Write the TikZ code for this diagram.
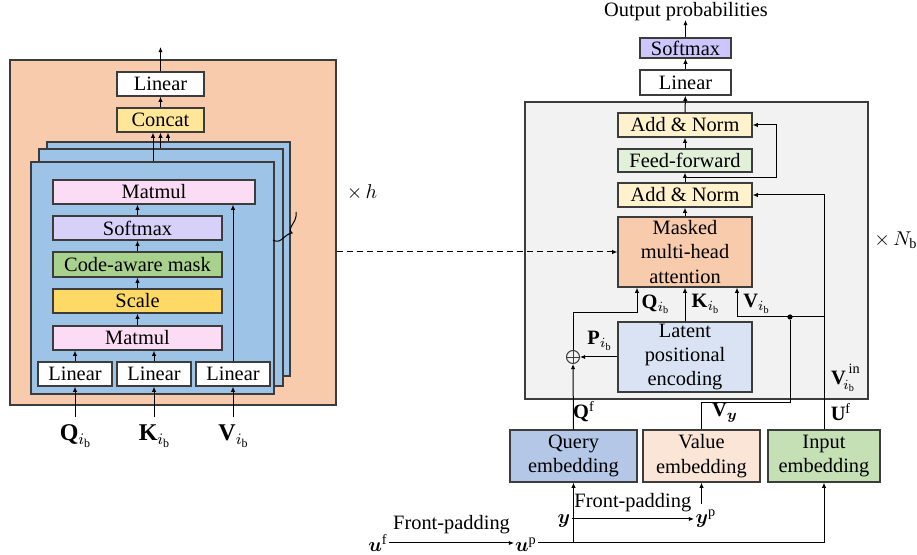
\documentclass[tikz,border=0pt]{standalone}
\usepackage{amsmath,bm}
\usepackage{fontspec}
\setmainfont{Liberation Serif}
\usetikzlibrary{arrows.meta,calc}
\definecolor{orangebg}{HTML}{F8CBAD}
\definecolor{layerc}{HTML}{9DC3E6}
\definecolor{pinkc}{HTML}{FCDCF4}
\definecolor{softl}{HTML}{D7D1FA}
\definecolor{softr}{HTML}{CCC6FD}
\definecolor{codec}{HTML}{A9D18E}
\definecolor{scalec}{HTML}{FFD966}
\definecolor{concatc}{HTML}{FFE699}
\definecolor{addc}{HTML}{FFF2CC}
\definecolor{ffc}{HTML}{E2F0D9}
\definecolor{latc}{HTML}{DAE3F3}
\definecolor{greyc}{HTML}{F2F2F2}
\definecolor{qec}{HTML}{B4C7E7}
\definecolor{vec}{HTML}{FBE5D6}
\definecolor{iec}{HTML}{C5E0B4}
\definecolor{edgec}{HTML}{3C3C3C}
\begin{document}
\begin{tikzpicture}[x=0.5pt,y=-0.5pt,
  font=\rmfamily\fontsize{10.2}{12.2}\selectfont,
  box/.style={draw=edgec, line width=0.65pt, inner sep=0pt, align=center},
  panel/.style={draw=edgec, line width=0.65pt, inner sep=0pt},
  conn/.style={line width=0.5pt, draw=black},
  arr/.style={conn, -{Latex[length=2.6pt,width=2.2pt]}},
  lbl/.style={inner sep=0.5pt},
  dotn/.style={circle, fill=black, inner sep=0pt, minimum size=2.6pt}
]
\useasboundingbox (0,0) rectangle (917,555);

% ---------- left panel ----------
\node[panel, fill=orangebg, minimum width=163pt, minimum height=172.5pt] (orng) at (173,232.5) {};
\node[panel, fill=layerc, minimum width=121.5pt, minimum height=117pt] (lay3) at (168.5,259) {};
\node[panel, fill=layerc, minimum width=122pt, minimum height=118.5pt] (lay2) at (161,267.5) {};
\node[panel, fill=layerc, minimum width=121.5pt, minimum height=116pt] (lay1) at (152.5,278) {};

\node[box, fill=white, minimum width=43.5pt, minimum height=12pt] (lintop) at (160.5,84) {Linear};
\node[box, fill=concatc, minimum width=43.5pt, minimum height=12pt] (concat) at (160.5,120) {Concat};
\node[box, fill=pinkc, minimum width=101pt, minimum height=12pt] (mmtop) at (154,192) {Matmul};
\node[box, fill=softl, minimum width=84.5pt, minimum height=12pt] (softl) at (137.5,228) {Softmax};
\node[box, fill=codec, minimum width=84.5pt, minimum height=12.5pt] (code) at (137.5,264.5) {Code-aware mask};
\node[box, fill=scalec, minimum width=84.5pt, minimum height=12pt] (scale) at (137.5,301) {Scale};
\node[box, fill=pinkc, minimum width=84.5pt, minimum height=12pt] (mmbot) at (137.5,338) {Matmul};
\node[box, fill=white, minimum width=37pt, minimum height=12pt] (lin1) at (75,374) {Linear};
\node[box, fill=white, minimum width=37pt, minimum height=12pt] (lin2) at (154,374) {Linear};
\node[box, fill=white, minimum width=37pt, minimum height=12pt] (lin3) at (233,374) {Linear};

\coordinate (topout) at (160.5,47);
\draw[arr] (concat) -- (lintop);
\draw[arr] (lintop.north) -- (topout);
\coordinate (c1) at ($(concat.south)+(-7.5,0)$);
\coordinate (c3) at ($(concat.south)+(7.5,0)$);
\draw[arr] (lay1.north -| c1) -- (c1);
\draw[arr] (lay2.north -| concat.south) -- (concat.south);
\draw[arr] (lay3.north -| c3) -- (c3);

\draw[arr] (softl) -- (mmtop.south -| softl.north);
\draw[arr] (code) -- (softl);
\draw[arr] (scale) -- (code);
\draw[arr] (mmbot) -- (scale);
\draw[arr] (lin1.north) -- (mmbot.south -| lin1.north);
\draw[arr] (lin2.north) -- (mmbot.south -| lin2.north);
\draw[arr] (lin3.north) -- (mmtop.south -| lin3.north);

\coordinate (qin) at (75,417);
\coordinate (kin) at (154,417);
\coordinate (vin) at (233,417);
\draw[arr] (qin) -- (lin1.south);
\draw[arr] (kin) -- (lin2.south);
\draw[arr] (vin) -- (lin3.south);
\node[lbl] (ql) at (76,436) {\large$\mathbf{Q}_{i_{\mathrm{b}}}$};
\node[lbl] (kl) at (155,436) {\large$\mathbf{K}_{i_{\mathrm{b}}}$};
\node[lbl] (vl) at (234,436) {\large$\mathbf{V}_{i_{\mathrm{b}}}$};

\coordinate (sq1) at (273,240);
\coordinate (sq2) at (296,212);
\draw[conn] (sq1) .. controls (281,245) and (284,234) .. (292,233)
  .. controls (286,228) and (298,222) .. (sq2);
\node[lbl] (xh) at (362,192) {$\times\, h$};

% ---------- right panel ----------
\node[panel, fill=greyc, minimum width=171.5pt, minimum height=148.5pt] (grey) at (696.5,250.5) {};
\node[lbl] (outp) at (686,12) {Output probabilities};
\coordinate (outtip) at (685.5,20);
\node[box, fill=softr, minimum width=45.5pt, minimum height=10pt] (smr) at (685.5,48) {Softmax};
\node[box, fill=white, minimum width=45.5pt, minimum height=12.5pt] (linr) at (685.5,82.5) {Linear};
\node[box, fill=addc, minimum width=67pt, minimum height=12pt] (ant) at (685,125) {Add \& Norm};
\node[box, fill=ffc, minimum width=67pt, minimum height=11.5pt] (ff) at (685,160.5) {Feed-forward};
\node[box, fill=addc, minimum width=67pt, minimum height=12pt] (anb) at (685,195) {Add \& Norm};
\node[box, fill=orangebg, minimum width=67pt, minimum height=35pt] (mha) at (685,252) {Masked\\multi-head\\attention};
\node[box, fill=latc, minimum width=67pt, minimum height=35pt] (lat) at (685,357) {Latent\\positional\\encoding};
\node[box, fill=qec, minimum width=63.5pt, minimum height=26pt] (qe) at (573.5,456) {Query\\embedding};
\node[box, fill=vec, minimum width=58.5pt, minimum height=26pt] (ve) at (701.5,456) {Value\\embedding};
\node[box, fill=iec, minimum width=56pt, minimum height=26pt] (ie) at (824,456) {Input\\embedding};
\node[circle, draw=edgec, line width=0.5pt, inner sep=0pt, minimum size=6.5pt,
  path picture={\draw[line width=0.45pt] (path picture bounding box.north) -- (path picture bounding box.south)
  (path picture bounding box.west) -- (path picture bounding box.east);}] (oplus) at (573,357) {};

\draw[arr] (smr) -- (outtip);
\draw[arr] (linr) -- (smr);
\draw[arr] (ant) -- (linr);
\draw[arr] (ff) -- (ant);
\draw[arr] (anb) -- (ff);
\draw[arr] (mha) -- (anb);
\draw[arr] (lat) -- (mha);

\coordinate (r1) at (685,178);
\coordinate (rx) at (776,0);
\draw[arr] (r1) -- (r1 -| rx) |- (ant.east);

\draw[arr] (ie.north) -- (ie.north |- anb.east) -- (anb.east);
\coordinate (vj) at (824,317);
\coordinate (vtop) at ($(mha.south)+(52,0)$);
\draw[arr] (vj) -| (vtop);
\node[dotn] (vdot) at (790,317) {};
\draw[conn] (ve.north) -- ++(0,-27) -| (vdot);

\coordinate (qtop) at ($(mha.south)+(-48,0)$);
\draw[arr] (qe.north) -- (oplus.south);
\draw[arr] (oplus.north) |- ($(qtop)+(0,25)$) -- (qtop);
\draw[arr] (lat.west) -- (oplus.east);

\draw[arr, dashed, dash pattern=on 3pt off 2pt] (orng.east |- mha.west) -- (mha.west);

\node[lbl] (qib) at (656,304) {$\mathbf{Q}_{i_{\mathrm{b}}}$};
\node[lbl] (kib) at (706,304) {$\mathbf{K}_{i_{\mathrm{b}}}$};
\node[lbl] (vib) at (757,304) {$\mathbf{V}_{i_{\mathrm{b}}}$};
\node[lbl] (pib) at (600,341) {$\mathbf{P}_{i_{\mathrm{b}}}$};
\node[lbl] (vinl) at (846,378) {$\mathbf{V}_{\!i_{\mathrm{b}}}^{\raisebox{1.5pt}{$\scriptstyle\,\mathrm{in}$}}$};
\node[lbl] (qf) at (584,412) {$\mathbf{Q}^{\mathrm{f}}$};
\node[lbl] (vy) at (725,413) {$\mathbf{V}_{\bm{y}}$};
\node[lbl] (uf) at (841,412) {$\mathbf{U}^{\mathrm{f}}$};
\node[lbl] (xn) at (896,240) {$\times\, N_{\mathrm{b}}$};

% ---------- bottom ----------
\node[lbl, anchor=base] (ufin) at (378,552) {$\bm{u}^{\mathrm{f}}$};
\node[lbl, anchor=base] (up) at (526,552) {$\bm{u}^{\mathrm{p}}$};
\coordinate (upw) at (514,543);
\draw[arr] (ufin.east |- upw) -- (upw) node[midway, above=1pt] {Front-padding};
\draw[arr] (up.east |- upw) -| (ie.south);
\draw[arr] (upw -| qe.south) -- (qe.south);
\node[lbl, anchor=base] (yy) at (564,524) {$\bm{y}$};
\node[lbl, anchor=base] (yp) at (706,524) {$\bm{y}^{\mathrm{p}}$};
\coordinate (ypw) at (694,519);
\draw[arr] (yy.east |- ypw) -- (ypw) node[midway, above=0pt] {Front-padding};
\draw[arr] ($(ve.south)+(0,21)$) -- (ve.south);
\end{tikzpicture}
\end{document}
